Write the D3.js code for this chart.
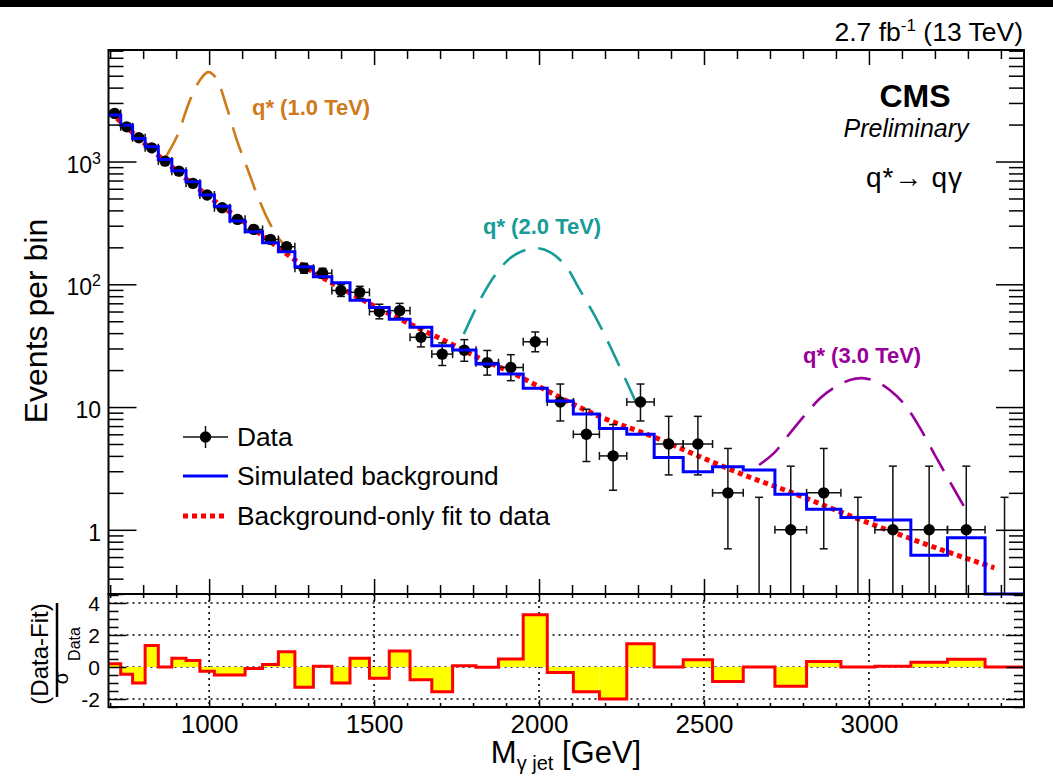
<!DOCTYPE html>
<html><head><meta charset="utf-8">
<script src="https://cdn.jsdelivr.net/npm/d3@7"></script>
<style>
body{margin:0;background:#fff;}
svg{display:block;}
text{font-family:"Liberation Sans",Arial,Helvetica,sans-serif;fill:#000;}
</style>
</head><body>
<svg id="c" width="1053" height="780"></svg>
<script>
// ---------------- data ----------------
const binEdges = [695,732,768,806,846,887,930,972,1016,1063,1109,1162,1210,1260,1316,1372,1427,1486,1546,1609,1675,1738,1809,1877,1952,2025,2104,2183,2266,2349,2437,2526,2619,2715,2811,2915,3018,3127,3238,3352,3470];
const dataCounts = [2466,1917,1560,1293,1008,835,664,533,420,338,280,232,202,135,123,89,86,60,61,37,27,29,23,21,34,11,6,4,11,5,5,2,0,1,2,0,1,1,1,0];
const dataErrLow = [49,43,39,36,31,28,25,23,20,18,16,15,14,12,11,9.4,9.3,7.7,7.8,6.1,5.2,5.4,4.8,4.6,5.8,3.3,2.4,1.9,3.3,2.2,2.2,1.3,0,0.83,1.3,0,0.83,0.83,0.83,0];
const dataErrHigh = [51,45,41,37,33,30,27,24,21,19,18,16,15,13,12,10.5,10.3,8.8,8.9,7.2,6.3,6.4,5.9,5.7,6.9,4.4,3.6,3.2,4.4,3.4,3.4,2.6,1.84,2.3,2.6,1.84,2.3,2.3,2.3,1.84];
const simBackground = [2388,1977,1542,1318,1040,840,684,533,433,327,268,218,184,139,115,103,74.3,64.8,51.8,44.6,31.6,29.1,22.4,18.6,14.2,11.2,8.77,6.7,6.0,3.89,2.97,3.27,3.07,1.95,1.47,1.26,1.2,0.62,0.86,0];
const residuals = [0.2,-0.45,-1.0,1.35,0,0.55,0.4,-0.27,-0.5,-0.5,-0.1,0.15,0.95,-1.27,0.05,-1.0,0.55,-0.7,1.0,-0.8,-1.55,0.08,-0.02,0.5,3.27,-0.35,-1.55,-2.0,1.45,0,0.45,-0.9,0,-1.2,0.35,0,0.05,0.3,0.48,0];
const fitMass  = [700,866,993,1136,1275,1467,1740,1821,1922,1993,2185,2346,2488,2660,2731,2963,3165,3380];
const fitValue = [2525,1008,533,281,148,74.3,32,24.9,18.8,15.0,8.34,5.73,3.94,2.55,2.18,1.24,0.776,0.49];
const sig1Mass  = [866,902,942,972,997,1021,1053,1084,1114,1144,1179,1215,1236];
const sig1Value = [1060,1589,3164,4600,5350,4800,2790,1494,906,550,333,229,201];
const sig2Mass  = [1772,1821,1867,1912,1958,1994,2033,2079,2124,2176,2221,2270,2306];
const sig2Value = [39.3,74.3,118.8,163,190,197,183,143,89.7,51.1,29.1,15.1,9.27];
const sig3Mass  = [2667,2715,2761,2806,2852,2897,2942,2979,3018,3064,3109,3155,3200,3246,3294];
const sig3Value = [3.37,4.30,6.14,8.60,11.8,14.5,16.6,17.2,16.3,13.7,10.4,6.74,4.06,2.45,1.45];
const xTickValues = [1000,1500,2000,2500,3000];
const yTickValues = [1,10,100,1000];
const yTickLabels = [["1",""],["10",""],["10","2"],["10","3"]];
const rTickValues = [-2,0,2,4];
const signalNames = ["q* (1.0 TeV)","q* (2.0 TeV)","q* (3.0 TeV)"];
const legendNames = ["Data","Simulated background","Background-only fit to data"];

// ---------------- layout ----------------
const X0=108.5, X1=1024, Y0=50, Y1=594, R0=594, R1=707;
const svg = d3.select("#c");
const x  = d3.scaleLinear().domain([695,3470]).range([X0,X1]);
const y  = d3.scaleLog().domain([0.3,8100]).range([Y1,Y0]);
const yr = d3.scaleLinear().domain([-2.5,4.56]).range([R1,R0]);

svg.append("rect").attr("x",0).attr("y",0).attr("width",1053).attr("height",7).attr("fill","#000");

const defs = svg.append("defs");
defs.append("clipPath").attr("id","cu").append("rect").attr("x",X0).attr("y",Y0).attr("width",X1-X0).attr("height",Y1-Y0);
defs.append("clipPath").attr("id","cl").append("rect").attr("x",X0).attr("y",R0).attr("width",X1-X0).attr("height",R1-R0);

// ---------- lower pad ----------
const low = svg.append("g");
const lowc = low.append("g").attr("clip-path","url(#cl)");
lowc.selectAll("line.gh").data(rTickValues).join("line")
  .attr("x1",X0).attr("x2",X1).attr("y1",d=>yr(d)).attr("y2",d=>yr(d))
  .attr("stroke","#000").attr("stroke-width",1.6).attr("stroke-dasharray","2,4");
lowc.selectAll("line.gv").data(xTickValues).join("line")
  .attr("x1",d=>x(d)).attr("x2",d=>x(d)).attr("y1",R0).attr("y2",R1)
  .attr("stroke","#000").attr("stroke-width",1.6).attr("stroke-dasharray","2,4");
const resBins = residuals.map((v,i)=>({x0:binEdges[i],x1:binEdges[i+1],v}));
lowc.selectAll("rect.res").data(resBins).join("rect")
  .attr("x",d=>x(d.x0)).attr("width",d=>x(d.x1)-x(d.x0))
  .attr("y",d=>Math.min(yr(d.v),yr(0))).attr("height",d=>Math.abs(yr(d.v)-yr(0)))
  .attr("fill","#ffff00");
let rp = "";
resBins.forEach((d,i)=>{ rp += (i===0?`M${x(d.x0)},${yr(d.v)}`:`V${yr(d.v)}`) + `H${x(d.x1)}`; });
lowc.append("path").attr("d",rp).attr("fill","none").attr("stroke","#ff0000").attr("stroke-width",3);

// ---------- upper pad ----------
const up = svg.append("g").attr("clip-path","url(#cu)");
const sigColors = ["#cf7a1b","#179c98","#990099"];
const sigLine = d3.line().x(d=>x(d[0])).y(d=>y(d[1])).curve(d3.curveCatmullRom.alpha(0.5));
[[sig1Mass,sig1Value],[sig2Mass,sig2Value],[sig3Mass,sig3Value]].forEach((s,k)=>{
  up.append("path").attr("d",sigLine(d3.zip(s[0],s[1])))
    .attr("fill","none").attr("stroke",sigColors[k]).attr("stroke-width",2.6).attr("stroke-dasharray","27,13");
});
let bp = "";
simBackground.forEach((v,i)=>{
  const yy = v>0 ? y(v) : Y1;
  bp += (i===0?`M${x(binEdges[i])},${yy}`:`V${yy}`) + `H${x(binEdges[i+1])}`;
});
svg.append("path").attr("d",bp).attr("fill","none").attr("stroke","#0000ff").attr("stroke-width",3);
const fitLine = d3.line().x(d=>x(d[0])).y(d=>y(d[1])).curve(d3.curveMonotoneX);
up.append("path").attr("d",fitLine(d3.zip(fitMass,fitValue)))
  .attr("fill","none").attr("stroke","#ff0000").attr("stroke-width",5).attr("stroke-dasharray","5,4");
const pts = dataCounts.map((n,i)=>({n,lo:dataErrLow[i],hi:dataErrHigh[i],x0:binEdges[i],x1:binEdges[i+1],xc:(binEdges[i]+binEdges[i+1])/2}));
const dg = up.append("g").attr("stroke","#111").attr("stroke-width",1.5);
pts.forEach(p=>{
  const cx = x(p.xc);
  const yTop = y(p.n+p.hi);
  const lowV = p.n-p.lo;
  const yBot = lowV>0.3 ? y(lowV) : Y1+5;
  dg.append("line").attr("x1",cx).attr("x2",cx).attr("y1",yTop).attr("y2",yBot);
  dg.append("line").attr("x1",cx-4).attr("x2",cx+4).attr("y1",yTop).attr("y2",yTop);
  if(lowV>0.3) dg.append("line").attr("x1",cx-4).attr("x2",cx+4).attr("y1",yBot).attr("y2",yBot);
  if(p.n>0){
    const cy=y(p.n), xa=x(p.x0), xb=x(p.x1);
    dg.append("line").attr("x1",xa).attr("x2",xb).attr("y1",cy).attr("y2",cy);
    dg.append("line").attr("x1",xa).attr("x2",xa).attr("y1",cy-4).attr("y2",cy+4);
    dg.append("line").attr("x1",xb).attr("x2",xb).attr("y1",cy-4).attr("y2",cy+4);
  }
});
up.selectAll("circle.d").data(pts.filter(p=>p.n>0)).join("circle")
  .attr("cx",d=>x(d.xc)).attr("cy",d=>y(d.n)).attr("r",5.7).attr("fill","#000");

// ---------- axes / ticks ----------
function clean(g){ g.select(".domain").remove(); g.selectAll("line").attr("stroke","#000").attr("stroke-width",1.5); return g; }
const majX = xTickValues;
const minX = d3.range(700,3470,100).filter(v=>v%500!==0);
clean(svg.append("g").attr("transform",`translate(0,${Y1})`).call(d3.axisBottom(x).tickValues(majX).tickSize(-15).tickFormat("")));
clean(svg.append("g").attr("transform",`translate(0,${Y1})`).call(d3.axisBottom(x).tickValues(minX).tickSize(-9).tickFormat("")));
clean(svg.append("g").attr("transform",`translate(0,${Y0})`).call(d3.axisTop(x).tickValues(majX).tickSize(-15).tickFormat("")));
clean(svg.append("g").attr("transform",`translate(0,${Y0})`).call(d3.axisTop(x).tickValues(minX).tickSize(-9).tickFormat("")));
const minY = [];
[-1,0,1,2,3].forEach(e=>{ for(let k=2;k<=9;k++){ const v=k*Math.pow(10,e); if(v>0.3&&v<8100) minY.push(v);} });
clean(svg.append("g").attr("transform",`translate(${X0},0)`).call(d3.axisLeft(y).tickValues(yTickValues).tickSize(-28).tickFormat("")));
clean(svg.append("g").attr("transform",`translate(${X0},0)`).call(d3.axisLeft(y).tickValues(minY).tickSize(-15).tickFormat("")));
clean(svg.append("g").attr("transform",`translate(${X1},0)`).call(d3.axisRight(y).tickValues(yTickValues).tickSize(-28).tickFormat("")));
clean(svg.append("g").attr("transform",`translate(${X1},0)`).call(d3.axisRight(y).tickValues(minY).tickSize(-15).tickFormat("")));
yTickValues.forEach((v,i)=>{
  const t = svg.append("text").attr("x",101).attr("y",y(v)+11).attr("text-anchor","end").attr("font-size",23);
  t.append("tspan").text(yTickLabels[i][0]);
  if(yTickLabels[i][1]) t.append("tspan").attr("dy",-9).attr("font-size",16).text(yTickLabels[i][1]);
});
clean(svg.append("g").attr("transform",`translate(0,${R1})`).call(d3.axisBottom(x).tickValues(majX).tickSize(-7).tickPadding(8).tickFormat(d3.format("d"))))
  .selectAll("text").attr("font-size",26).attr("font-family","Liberation Sans, Arial, sans-serif").attr("fill","#000");
clean(svg.append("g").attr("transform",`translate(0,${R1})`).call(d3.axisBottom(x).tickValues(minX).tickSize(-4).tickFormat("")));
clean(svg.append("g").attr("transform",`translate(0,${R0})`).call(d3.axisTop(x).tickValues(majX).tickSize(-7).tickFormat("")));
clean(svg.append("g").attr("transform",`translate(0,${R0})`).call(d3.axisTop(x).tickValues(minX).tickSize(-4).tickFormat("")));
const minR = d3.range(-2.5,4.51,0.5).filter(v=>Math.abs(v%2)>0.01);
clean(svg.append("g").attr("transform",`translate(${X0},0)`).call(d3.axisLeft(yr).tickValues(rTickValues).tickSize(-18).tickFormat("")));
clean(svg.append("g").attr("transform",`translate(${X0},0)`).call(d3.axisLeft(yr).tickValues(minR).tickSize(-10).tickFormat("")));
clean(svg.append("g").attr("transform",`translate(${X1},0)`).call(d3.axisRight(yr).tickValues(rTickValues).tickSize(-18).tickFormat("")));
clean(svg.append("g").attr("transform",`translate(${X1},0)`).call(d3.axisRight(yr).tickValues(minR).tickSize(-10).tickFormat("")));
rTickValues.forEach(v=>{
  svg.append("text").attr("x",100).attr("y",yr(v)+8.5).attr("text-anchor","end").attr("font-size",21).text(v);
});
svg.append("rect").attr("x",X0).attr("y",Y0).attr("width",X1-X0).attr("height",Y1-Y0).attr("fill","none").attr("stroke","#000").attr("stroke-width",2);
svg.append("rect").attr("x",X0).attr("y",R0).attr("width",X1-X0).attr("height",R1-R0).attr("fill","none").attr("stroke","#000").attr("stroke-width",2);

// ---------- texts ----------
const tl = svg.append("text").attr("x",1023).attr("y",41).attr("text-anchor","end").attr("font-size",26.5);
tl.append("tspan").text("2.7 fb");
tl.append("tspan").attr("dy",-10).attr("font-size",17).text("-1");
tl.append("tspan").attr("dy",10).text(" (13 TeV)");
svg.append("text").attr("x",915).attr("y",107).attr("text-anchor","middle").attr("font-size",32).attr("font-weight","bold").text("CMS");
svg.append("text").attr("x",906).attr("y",137).attr("text-anchor","middle").attr("font-size",25).attr("font-style","italic").text("Preliminary");
svg.append("text").attr("x",866).attr("y",187).attr("font-size",28).attr("textLength",96).attr("lengthAdjust","spacing").text("q*\u2192 q\u03b3");
const sigLab = [[252,115],[483,234],[803,363]];
signalNames.forEach((s,k)=>{
  svg.append("text").attr("x",sigLab[k][0]).attr("y",sigLab[k][1]).attr("font-size",22).attr("font-weight","bold").style("fill",sigColors[k]).text(s);
});
const lg = svg.append("g");
lg.append("line").attr("x1",183).attr("x2",228).attr("y1",437).attr("y2",437).attr("stroke","#111").attr("stroke-width",1.5);
lg.append("line").attr("x1",205.5).attr("x2",205.5).attr("y1",426).attr("y2",448).attr("stroke","#111").attr("stroke-width",1.5);
lg.append("circle").attr("cx",205.5).attr("cy",437).attr("r",5.7).attr("fill","#000");
lg.append("line").attr("x1",183).attr("x2",228).attr("y1",476).attr("y2",476).attr("stroke","#0000ff").attr("stroke-width",3);
lg.append("line").attr("x1",183).attr("x2",228).attr("y1",516).attr("y2",516).attr("stroke","#ff0000").attr("stroke-width",5).attr("stroke-dasharray","5,4");
[446,485,525].forEach((yy,i)=>{
  lg.append("text").attr("x",237).attr("y",yy).attr("font-size",26.3).text(legendNames[i]);
});
svg.append("text").attr("transform","translate(47,321) rotate(-90)").attr("text-anchor","middle").attr("font-size",32).text("Events per bin");
svg.append("text").attr("transform","translate(48,654) rotate(-90)").attr("text-anchor","middle").attr("font-size",24).text("(Data-Fit)");
svg.append("line").attr("x1",57).attr("x2",57).attr("y1",603).attr("y2",697).attr("stroke","#000").attr("stroke-width",2.5);
svg.append("text").attr("transform","translate(68,678) rotate(-90)").attr("text-anchor","middle").attr("font-size",20).text("\u03c3");
svg.append("text").attr("transform","translate(80,644) rotate(-90)").attr("text-anchor","middle").attr("font-size",16).text("Data");
const xt = svg.append("text").attr("x",566).attr("y",763).attr("text-anchor","middle").attr("font-size",31);
xt.append("tspan").text("M");
xt.append("tspan").attr("dy",7).attr("font-size",20).text("\u03b3 jet");
xt.append("tspan").attr("dy",-7).text(" [GeV]");
</script>
</body></html>
